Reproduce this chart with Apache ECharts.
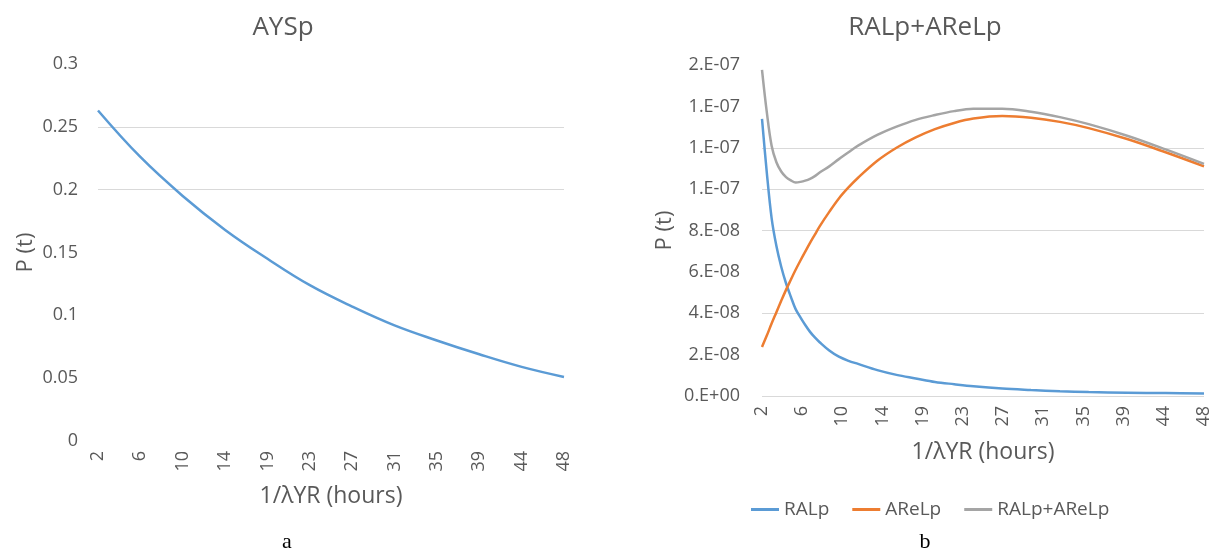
<!DOCTYPE html>
<html>
<head>
<meta charset="utf-8">
<script src="https://cdn.jsdelivr.net/npm/echarts@6/dist/echarts.min.js"></script>
<style>
html,body{margin:0;padding:0;background:#fff;}
#c{width:1213px;height:556px;}
</style>
</head>
<body>
<div id="c"></div>
<script>
// ---- data ----
const xTickLabels = ['2','6','10','14','19','23','27','31','35','39','44','48'];

// panel a
const hoursA = [2, 6.18, 10.36, 14.55, 18.73, 22.91, 27.09, 31.27, 35.45, 39.64, 43.82, 48];
const ayspValues = [0.263, 0.226, 0.195, 0.168, 0.145, 0.124, 0.107, 0.092, 0.080, 0.069, 0.059, 0.051];

// panel b
const hoursB = [2, 2.5, 3, 3.5, 4, 4.5, 5, 5.5, 6, 6.5, 7, 7.5, 8, 9, 10, 11, 12, 14, 16, 18, 20, 22, 24, 27, 30, 33, 36, 40, 44, 48];
const ralpValues = [1.34e-7, 1.08e-7, 8.6e-8, 7.25e-8, 6.25e-8, 5.45e-8, 4.8e-8, 4.2e-8, 3.8e-8, 3.43e-8, 3.1e-8, 2.83e-8, 2.6e-8, 2.2e-8, 1.9e-8, 1.7e-8, 1.55e-8, 1.25e-8, 1.02e-8, 8.5e-9, 6.8e-9, 5.7e-9, 4.7e-9, 3.6e-9, 2.9e-9, 2.3e-9, 1.9e-9, 1.6e-9, 1.4e-9, 1.2e-9];
const arelpValues = [2.37e-8, 2.92e-8, 3.5e-8, 4.05e-8, 4.6e-8, 5.13e-8, 5.62e-8, 6.1e-8, 6.55e-8, 6.98e-8, 7.4e-8, 7.8e-8, 8.2e-8, 8.9e-8, 9.55e-8, 1.008e-7, 1.055e-7, 1.137e-7, 1.2e-7, 1.25e-7, 1.29e-7, 1.32e-7, 1.341e-7, 1.353e-7, 1.345e-7, 1.325e-7, 1.295e-7, 1.242e-7, 1.178e-7, 1.11e-7];
const sumValues = [1.577e-7, 1.372e-7, 1.21e-7, 1.13e-7, 1.085e-7, 1.058e-7, 1.042e-7, 1.032e-7, 1.035e-7, 1.041e-7, 1.05e-7, 1.063e-7, 1.08e-7, 1.11e-7, 1.145e-7, 1.178e-7, 1.21e-7, 1.262e-7, 1.302e-7, 1.335e-7, 1.358e-7, 1.377e-7, 1.388e-7, 1.389e-7, 1.374e-7, 1.348e-7, 1.314e-7, 1.258e-7, 1.192e-7, 1.122e-7];

const yLeftTicks = {min: 0, max: 0.3, step: 0.05};
const yRightTicks = {min: 0, max: 1.6e-7, step: 2e-8};

// ---- helpers ----
function pairs(xs, ys) { return xs.map((x, i) => [x, ys[i]]); }
const xMin = Number(xTickLabels[0]), xMax = Number(xTickLabels[xTickLabels.length - 1]);
const xStep = (xMax - xMin) / (xTickLabels.length - 1);
const xTickPositions = xTickLabels.map((_, i) => xMin + i * xStep);
function xLabel(v) {
  const i = Math.round((v - xMin) / xStep);
  return xTickLabels[i] !== undefined ? xTickLabels[i] : '';
}
function sciFmt(v) {
  if (Math.abs(v) < 1e-20) return '0.E+00';
  let e = Math.floor(Math.log10(Math.abs(v)) + 1e-9);
  let m = Math.round(v / Math.pow(10, e));
  if (m >= 10) { m = 1; e += 1; }
  const ae = Math.abs(e);
  return m + '.E' + (e < 0 ? '-' : '+') + (ae < 10 ? '0' + ae : '' + ae);
}

const TXT = '#595959';
const GRID = '#d9d9d9';
const FONT = 'Open Sans';
const NONE = 'rgba(0,0,0,0)';

function xAxisCfg(gridIndex, nameGap) {
  return {
    type: 'value', gridIndex, min: xMin, max: xMax,
    name: '1/λYR (hours)', nameLocation: 'middle', nameGap,
    nameTextStyle: {color: TXT, fontSize: 23, fontFamily: FONT},
    axisLine: {show: false}, axisTick: {show: false},
    splitLine: {show: false},
    axisLabel: {
      customValues: xTickPositions, rotate: 90, margin: 10,
      color: TXT, fontSize: 18, fontFamily: FONT,
      formatter: xLabel
    }
  };
}

const chart = echarts.init(document.getElementById('c'), null, {renderer: 'canvas'});
chart.setOption({
  backgroundColor: '#ffffff',
  animation: false,
  grid: [
    {left: 98, top: 64, width: 466, height: 377},
    {left: 762, top: 65, width: 446, height: 331}
  ],
  xAxis: [xAxisCfg(0, 44), xAxisCfg(1, 45)],
  yAxis: [
    {
      type: 'value', gridIndex: 0, min: yLeftTicks.min, max: yLeftTicks.max, interval: yLeftTicks.step,
      name: 'P (t)', nameLocation: 'middle', nameGap: 61,
      nameTextStyle: {color: TXT, fontSize: 22, fontFamily: FONT},
      axisLine: {show: false}, axisTick: {show: false},
      axisLabel: {color: TXT, fontSize: 18, fontFamily: FONT, margin: 20},
      splitLine: {show: true, lineStyle: {width: 1, color: [NONE, NONE, NONE, NONE, GRID, GRID, NONE]}}
    },
    {
      type: 'value', gridIndex: 1, min: yRightTicks.min, max: yRightTicks.max, interval: yRightTicks.step,
      name: 'P (t)', nameLocation: 'middle', nameGap: 86,
      nameTextStyle: {color: TXT, fontSize: 22, fontFamily: FONT},
      axisLine: {show: false}, axisTick: {show: false},
      axisLabel: {color: TXT, fontSize: 18, fontFamily: FONT, margin: 22, formatter: sciFmt},
      splitLine: {show: true, lineStyle: {width: 1, color: [GRID, NONE, GRID, NONE, GRID, GRID, GRID, NONE, NONE]}}
    }
  ],
  legend: {
    data: ['RALp', 'AReLp', 'RALp+AReLp'],
    left: 746, top: 495,
    icon: 'rect', itemWidth: 28, itemHeight: 3, itemGap: 23,
    textStyle: {color: TXT, fontSize: 19, fontFamily: FONT}
  },
  graphic: [
    {type: 'text', x: 283, y: 28, style: {text: 'AYSp', fill: TXT, font: '26px "Open Sans"', textAlign: 'center', textVerticalAlign: 'middle'}},
    {type: 'text', x: 925, y: 28, style: {text: 'RALp+AReLp', fill: TXT, font: '26px "Open Sans"', textAlign: 'center', textVerticalAlign: 'middle'}},
    {type: 'text', x: 287, y: 542, style: {text: 'a', fill: '#000', font: '22px "Liberation Serif"', textAlign: 'center', textVerticalAlign: 'middle'}},
    {type: 'text', x: 925, y: 542, style: {text: 'b', fill: '#000', font: '22px "Liberation Serif"', textAlign: 'center', textVerticalAlign: 'middle'}}
  ],
  series: [
    {name: 'AYSp', type: 'line', xAxisIndex: 0, yAxisIndex: 0, data: pairs(hoursA, ayspValues),
     smooth: 0.4, symbol: 'none', lineStyle: {color: '#5b9bd5', width: 2.5}, itemStyle: {color: '#5b9bd5'}},
    {name: 'RALp', type: 'line', xAxisIndex: 1, yAxisIndex: 1, data: pairs(hoursB, ralpValues),
     smooth: 0.35, symbol: 'none', lineStyle: {color: '#5b9bd5', width: 2.5}, itemStyle: {color: '#5b9bd5'}},
    {name: 'AReLp', type: 'line', xAxisIndex: 1, yAxisIndex: 1, data: pairs(hoursB, arelpValues),
     smooth: 0.35, symbol: 'none', lineStyle: {color: '#ed7d31', width: 2.5}, itemStyle: {color: '#ed7d31'}},
    {name: 'RALp+AReLp', type: 'line', xAxisIndex: 1, yAxisIndex: 1, data: pairs(hoursB, sumValues),
     smooth: 0.35, symbol: 'none', lineStyle: {color: '#a5a5a5', width: 2.5}, itemStyle: {color: '#a5a5a5'}}
  ]
});
</script>
</body>
</html>
